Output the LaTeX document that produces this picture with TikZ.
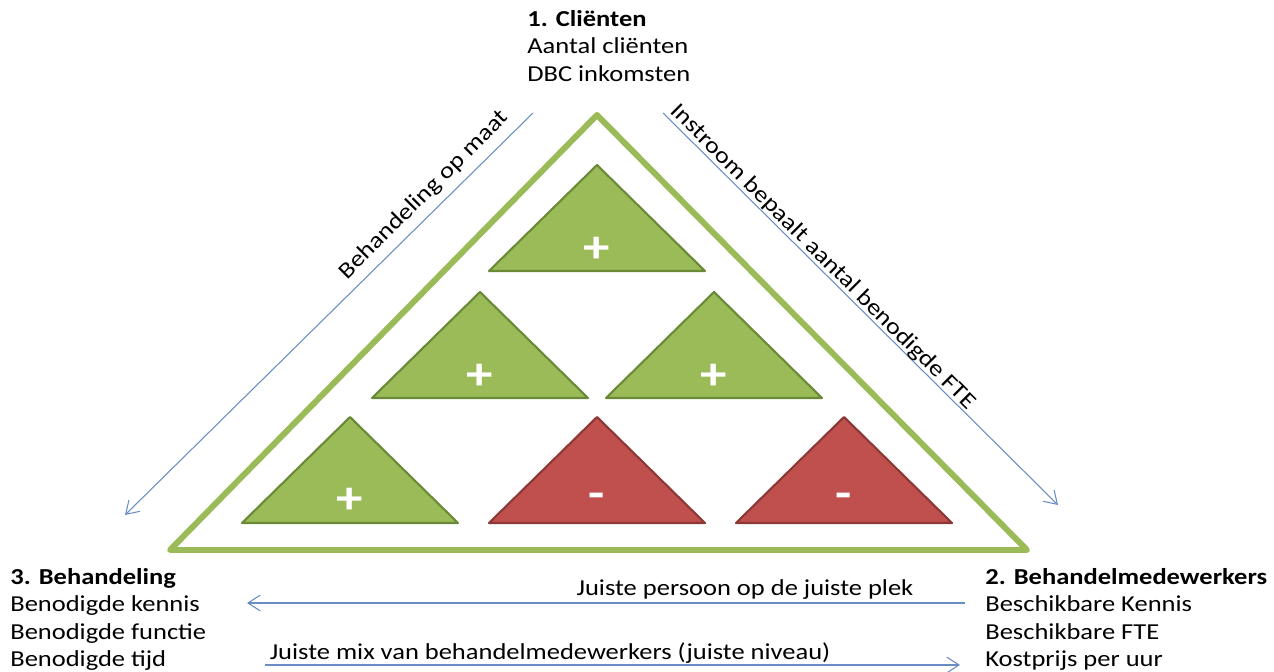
\documentclass[tikz,border=0pt]{standalone}
\usepackage{fontspec}
\setmainfont{Carlito}[FakeStretch=1.16]
\usetikzlibrary{positioning,arrows,arrows.meta}

\definecolor{pyrgreen}{HTML}{9BBB59}
\definecolor{pyrgreendark}{HTML}{6A8A38}
\definecolor{pyrred}{HTML}{C0504D}
\definecolor{pyrreddark}{HTML}{8C3836}
\definecolor{linkblue}{HTML}{6A8CC4}

\begin{document}
\begin{tikzpicture}[x=0.02cm,y=-0.02cm,
	% Text blocks
	block/.style={align=left,anchor=north west,inner sep=0pt,font=\fontsize{13}{15.6}\selectfont},
	% Arrows and their labels
	link/.style={draw=linkblue,-{Straight Barb[length=7pt,width=9pt]},line width=0.6pt},
	linklabel/.style={inner sep=1pt,font=\fontsize{13}{15.6}\selectfont},
	% Triangles
	outer/.style={draw=pyrgreen,line width=3.4pt,line join=round},
	plustri/.style={fill=pyrgreen,draw=pyrgreendark,line width=1.2pt,line join=round},
	mintri/.style={fill=pyrred,draw=pyrreddark,line width=1.2pt,line join=round},
	sign/.style={text=white,font=\bfseries\fontsize{26}{26}\selectfont,inner sep=0pt}
	]
	\useasboundingbox (0,0) rectangle (1274,672);

	%% Corner texts
	\node (clienten) [block] at (527,10) {\textbf{1. Cliënten}\\Aantal cliënten\\DBC inkomsten};
	\node (behandeling) [block] at (10,568) {\textbf{3. Behandeling}\\Benodigde kennis\\Benodigde functie\\Benodigde tijd};
	\node (medewerkers) [block] at (985,568) {\textbf{2. Behandelmedewerkers}\\Beschikbare Kennis\\Beschikbare FTE\\Kostprijs per uur};

	%% Big triangle
	\draw [outer] (597,115) -- (1027,550) -- (170,550) -- cycle;

	%% Small triangles
	\foreach \x/\y/\s in {597/165/plustri,480/292/plustri,714/292/plustri,350/417/plustri,597/417/mintri,844/417/mintri}{
		\draw [\s] (\x,\y) -- ++(108,106) -- ++(-216,0) -- cycle;
	}
	\node (pa) [sign] at (597,250) {+};
	\node (pb) [sign] at (480,377) {+};
	\node (pc) [sign] at (714,377) {+};
	\node (pd) [sign] at (350,501) {+};
	\node (me) [sign] at (597,501) {-};
	\node (mf) [sign] at (844,501) {-};

	%% Arrows
	\coordinate (l1) at (533,113);
	\coordinate (l2) at (125,515);
	\coordinate (r1) at (663,113);
	\coordinate (r2) at (1058,505);
	\coordinate (t1) at (965,603);
	\coordinate (t2) at (247,603);
	\coordinate (b1) at (265,665);
	\coordinate (b2) at (960,665);
	\draw [link] (l1) -- (l2);
	\draw [link] (r1) -- (r2);
	\draw [link] (t1) -- (t2);
	\draw [link] (b1) -- (b2);

	\node (maat) [linklabel,rotate=45] at (424,195) {Behandeling op maat};
	\node (instroom) [linklabel,rotate=-45] at (823,257) {Instroom bepaalt aantal benodigde FTE};
	\node (persoon) [linklabel] at (745,590) {Juiste persoon op de juiste plek};
	\node (mix) [linklabel] at (550,653) {Juiste mix van behandelmedewerkers (juiste niveau)};
\end{tikzpicture}
\end{document}
